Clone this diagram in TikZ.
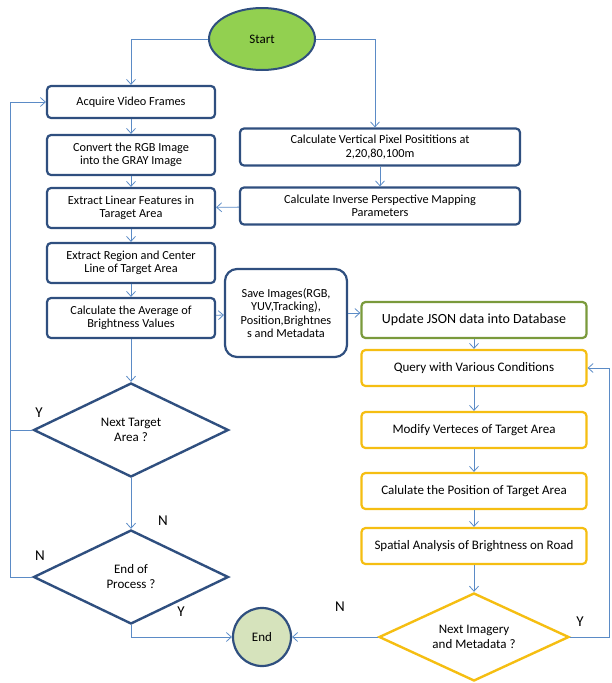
\documentclass[tikz,border=0pt]{standalone}
\usepackage{fontspec}
\setmainfont{Carlito}
\usetikzlibrary{shapes.geometric,arrows.meta}
\definecolor{navy}{HTML}{2F4F7F}
\definecolor{arr}{HTML}{5B8BC6}
\definecolor{ygold}{HTML}{F5BE12}
\definecolor{olive}{HTML}{7A9A3C}
\definecolor{startg}{HTML}{92D050}
\definecolor{endg}{HTML}{D6E3BC}
\tikzset{
  box/.style={draw=navy, line width=2.2pt, rounded corners=4pt, fill=white, align=center, font=\fontsize{12.3}{13.5}\selectfont, inner sep=1pt},
  ybox/.style={box, draw=ygold, minimum width=225pt, minimum height=36pt, font=\fontsize{13}{14}\selectfont},
  lbox/.style={box, minimum width=168pt, minimum height=40pt},
  dia/.style={diamond, draw=navy, line width=2.4pt, aspect=2.1, align=center, font=\fontsize{13}{15}\selectfont, inner sep=0pt},
  lab/.style={font=\fontsize{15}{15}\selectfont},
  conn/.style={draw=arr, line width=0.8pt, -{Straight Barb[length=5pt,width=9pt]}}
}
\begin{document}
\begin{tikzpicture}[x=1pt,y=-1pt]
\useasboundingbox (0,0) rectangle (612,683);
\node[ellipse, draw=navy, line width=2pt, fill=startg, minimum width=106pt, minimum height=62pt, font=\fontsize{13}{13}\selectfont] (start) at (262,39) {Start};
\node[lbox, minimum height=32pt] (acq) at (131,102) {Acquire Video Frames};
\node[lbox] (conv) at (131,155) {Convert the RGB Image\\into the GRAY Image};
\node[lbox] (lin) at (131,208) {Extract Linear Features in\\Taraget Area};
\node[lbox] (reg) at (131,263) {Extract Region and Center\\Line of Target Area};
\node[lbox] (avg) at (131,318) {Calculate the Average of\\Brightness Values};
\node[box, rounded corners=12pt, minimum width=122pt, minimum height=88pt] (save) at (286,313) {Save Images(RGB,\\YUV,Tracking),\\Position,Brightnes\\s and Metadata};
\node[box, minimum width=280pt, minimum height=37pt] (vert) at (380,147) {Calculate Vertical Pixel Posititions at\\2,20,80,100m};
\node[box, minimum width=280pt, minimum height=37pt] (ipm) at (380,206) {Calculate Inverse Perspective Mapping\\Parameters};
\node[ybox, draw=olive, font=\fontsize{14}{14}\selectfont] (json) at (474,320) {Update JSON data into Database};
\node[ybox] (query) at (474,368) {Query with Various Conditions};
\node[ybox] (mod) at (474,430) {Modify Verteces of Target Area};
\node[ybox] (pos) at (474,491) {Calulate the Position of Target Area};
\node[ybox] (spat) at (474,546) {Spatial Analysis of Brightness on Road};
\node[dia, minimum width=195pt, minimum height=94pt] (nt) at (131,430) {Next Target\\Area ?};
\node[dia, minimum width=195pt, minimum height=94pt] (eop) at (131,577) {End of\\Process ?};
\node[dia, draw=ygold, minimum width=190pt, minimum height=88pt] (nim) at (474,637) {Next Imagery\\and Metadata ?};
\node[circle, draw=navy, line width=2.2pt, fill=endg, minimum size=58pt, font=\fontsize{13}{13}\selectfont] (end) at (262,637) {End};
\coordinate (lx) at (10,0);
\coordinate (rx) at (609,0);
% connectors
\draw[conn] (start.west) -| (acq.north);
\draw[conn] (start.east) -| (vert.north -| 375,0);
\draw[conn] (acq) -- (conv);
\draw[conn] (conv) -- (lin);
\draw[conn] (lin) -- (reg);
\draw[conn] (reg) -- (avg);
\draw[conn] (vert) -- (ipm);
\draw[conn] (ipm) -- (lin);
\draw[conn] (avg) -- (save);
\draw[conn] (save.east) -- (json.west |- save.east);
\draw[conn] (json) -- (query);
\draw[conn] (query) -- (mod);
\draw[conn] (mod) -- (pos);
\draw[conn] (pos) -- (spat);
\draw[conn] (spat) -- (nim);
\draw[conn] (avg) -- (nt);
\draw[conn] (nt) -- (eop);
\draw[conn] (eop.south) |- (end.west);
\draw[conn] (nim.west) -- (end.east);
\draw[draw=arr, line width=0.8pt] (nt.west) -- (nt.west -| lx);
\draw[conn] (eop.west) -| (lx |- acq.west) -- (acq.west);
\draw[conn] (nim.east) -| (rx |- query.east) -- (query.east);
% labels
\node[lab] (y1) at (39,413) {Y};
\node[lab] (n1) at (163,521) {N};
\node[lab] (n2) at (40,556) {N};
\node[lab] (y2) at (181,612) {Y};
\node[lab] (n3) at (340,607) {N};
\node[lab] (y3) at (580,622) {Y};
\end{tikzpicture}
\end{document}
